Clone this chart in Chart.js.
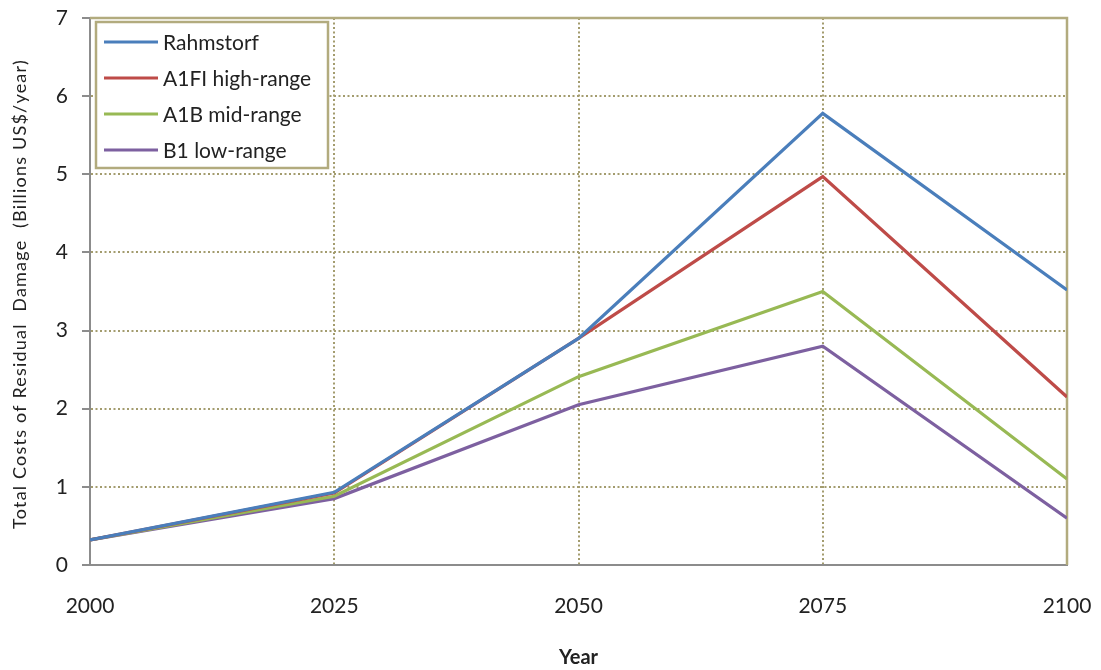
<!DOCTYPE html>
<html>
<head>
<meta charset="utf-8">
<script src="https://cdn.jsdelivr.net/npm/chart.js@4.4.0/dist/chart.umd.min.js"></script>
<style>
  html, body { margin: 0; padding: 0; background: #fff; }
  #wrap { width: 1101px; height: 670px; }
</style>
</head>
<body>
<div id="wrap"><canvas id="chart"></canvas></div>
<script>
// data
const years = [2000, 2025, 2050, 2075, 2100];
const rahmstorf = [0.32, 0.93, 2.90, 5.78, 3.52];
const a1fiHigh = [0.32, 0.92, 2.90, 4.97, 2.15];
const a1bMid = [0.32, 0.88, 2.41, 3.50, 1.10];
const b1Low = [0.32, 0.85, 2.05, 2.80, 0.60];
const seriesNames = ['Rahmstorf', 'A1FI high-range', 'A1B mid-range', 'B1 low-range'];
const yTicks = [0, 1, 2, 3, 4, 5, 6, 7];
const yTitle = 'Total Costs of Residual  Damage  (Billions US$/year)';

const colors = ['#4A7EBB', '#BE4B48', '#98B954', '#7D60A0'];
const olive = '#A39C6E';
const axisGray = '#8C8C8C';
const textColor = '#222';
const fontFamily = 'Lato, "Open Sans", sans-serif';

function toPoints(vals) {
    return vals.map((v, i) => ({ x: years[i], y: v }));
}

const allSeries = [rahmstorf, a1fiHigh, a1bMid, b1Low];

// frame (top/right olive border), legend box inside the plot, spaced y title
const framePlugin = {
    id: 'frame',
    beforeDatasetsDraw(chart) {
        const { ctx, chartArea: a } = chart;
        ctx.save();
        ctx.strokeStyle = '#B2AB7E';
        ctx.lineWidth = 2.5;
        ctx.beginPath();
        ctx.moveTo(a.left, a.top);
        ctx.lineTo(a.right, a.top);
        ctx.lineTo(a.right, a.bottom);
        ctx.stroke();
        ctx.restore();
    },
    afterDraw(chart) {
        const { ctx, chartArea: a } = chart;
        const x0 = a.left + 6, y0 = a.top + 4;
        const w = 232, h = 146;
        ctx.save();
        ctx.fillStyle = '#fff';
        ctx.fillRect(x0, y0, w, h);
        ctx.strokeStyle = '#B2AB7E';
        ctx.lineWidth = 2.5;
        ctx.strokeRect(x0, y0, w, h);
        ctx.font = '21px ' + fontFamily;
        ctx.textBaseline = 'middle';
        chart.data.datasets.forEach((ds, i) => {
            const cy = y0 + 20 + i * 36;
            ctx.strokeStyle = ds.borderColor;
            ctx.lineWidth = 3;
            ctx.beginPath();
            ctx.moveTo(x0 + 8, cy);
            ctx.lineTo(x0 + 62, cy);
            ctx.stroke();
            ctx.fillStyle = textColor;
            ctx.fillText(ds.label, x0 + 67, cy + 1);
        });
        ctx.restore();

        // y axis title, letter spaced like the original
        ctx.save();
        ctx.translate(20, 294);
        ctx.rotate(-Math.PI / 2);
        ctx.font = '18px ' + fontFamily;
        ctx.letterSpacing = '1.2px';
        ctx.fillStyle = textColor;
        ctx.textAlign = 'center';
        ctx.textBaseline = 'middle';
        ctx.fillText(yTitle, 0, 0);
        ctx.restore();
    }
};

new Chart(document.getElementById('chart'), {
    type: 'line',
    data: {
        datasets: allSeries.map((vals, i) => ({
            label: seriesNames[i],
            data: toPoints(vals),
            borderColor: colors[i],
            backgroundColor: colors[i],
            borderWidth: 3.2,
            pointRadius: 0,
            tension: 0
        }))
    },
    options: {
        responsive: true,
        maintainAspectRatio: false,
        animation: false,
        layout: { padding: { top: 18, right: 34, left: 0, bottom: 0 } },
        plugins: {
            legend: { display: false },
            tooltip: { enabled: false }
        },
        scales: {
            x: {
                type: 'linear',
                min: 2000,
                max: 2100,
                afterBuildTicks(scale) {
                    scale.ticks = years.map(v => ({ value: v }));
                },
                afterFit(scale) {
                    scale.height = 105;
                    scale.paddingLeft = 0;
                    scale.paddingRight = 0;
                },
                grid: {
                    color: olive,
                    lineWidth: 2,
                    drawTicks: false
                },
                border: { color: axisGray, width: 2, dash: [2, 2.5] },
                ticks: {
                    padding: 29,
                    color: textColor,
                    font: { family: fontFamily, size: 21 },
                    callback: v => String(v)
                },
                title: {
                    display: true,
                    text: 'Year',
                    color: textColor,
                    font: { family: fontFamily, size: 20, weight: 'bold' },
                    padding: { top: 7, bottom: 0 }
                }
            },
            y: {
                min: 0,
                max: 7,
                afterBuildTicks(scale) {
                    scale.ticks = yTicks.map(v => ({ value: v }));
                },
                afterFit(scale) {
                    scale.width = 90;
                    scale.paddingTop = 0;
                    scale.paddingBottom = 0;
                },
                grid: {
                    color: olive,
                    lineWidth: 2,
                    tickLength: 8,
                    tickColor: axisGray,
                    tickBorderDash: []
                },
                border: { color: axisGray, width: 2, dash: [2, 2.5] },
                ticks: {
                    padding: 14,
                    color: textColor,
                    font: { family: fontFamily, size: 21 }
                }
            }
        }
    },
    plugins: [framePlugin]
});
</script>
</body>
</html>
